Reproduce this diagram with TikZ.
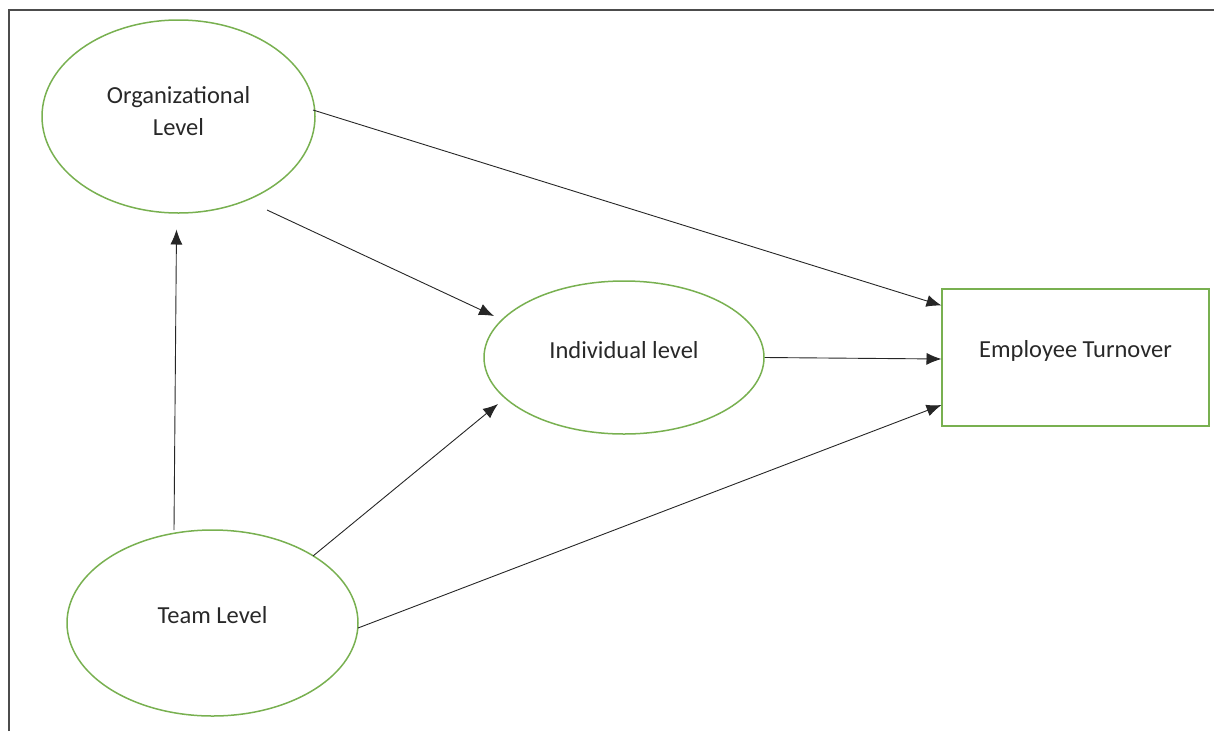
\documentclass[tikz,border=0pt]{standalone}
\usepackage{fontspec}
\setmainfont{Carlito}
\usetikzlibrary{shapes.geometric,arrows.meta,calc}
\definecolor{ogreen}{RGB}{120,176,80}
\definecolor{txt}{RGB}{40,40,40}
\tikzset{
  lvl/.style={ellipse,draw=ogreen,line width=1.5pt,inner sep=0pt},
  outbox/.style={rectangle,draw=ogreen,line width=1.5pt,inner sep=0pt},
  lab/.style={font=\fontsize{24.5}{32}\selectfont,text=txt,align=center},
  conn/.style={draw=black!85,line width=0.9pt,-{Latex[length=15pt,width=12pt]}},
  frame/.style={draw=black!70,line width=1.5pt}
}
\begin{document}
\begin{tikzpicture}[x=1pt,y=-1pt]
\useasboundingbox (0,0) rectangle (1214,731);
\draw[frame] (9,731) coordinate (fa) -- (9,10) coordinate (fb) -- (1214,10) coordinate (fc);
% shapes
\node[lvl,minimum width=273pt,minimum height=193pt] (org) at (178.5,116.5) {};
\node[lvl,minimum width=280pt,minimum height=153pt] (ind) at (624,357.5) {};
\node[outbox,minimum width=267pt,minimum height=137pt] (emp) at (1075.5,357.5) {};
\node[lvl,minimum width=291pt,minimum height=186pt] (team) at (212.5,623) {};
% texts
\node[lab] (orgt) at ($(org)+(0,-5)$) {Organizational\\Level};
\node[lab] (indt) at ($(ind)+(0,-7)$) {Individual level};
\node[lab] (empt) at ($(emp)+(0,-7)$) {Employee Turnover};
\node[lab] (teamt) at ($(team)+(0,-8)$) {Team Level};
% connectors
\draw[conn] ($(org)+(134.5,-6.5)$) -- ($(emp)+(-134,-52)$);
\draw[conn] ($(org)+(88.5,93.5)$) -- ($(ind)+(-130,-41.5)$);
\draw[conn] (ind.east) -- ($(emp)+(-134,1.5)$);
\draw[conn] ($(team)+(145.5,5)$) -- ($(emp)+(-134,47.5)$);
\draw[conn] ($(team)+(100.5,-67)$) -- ($(ind)+(-126,46.5)$);
\draw[conn] ($(team)+(-38.5,-93)$) -- ($(org)+(-2,113)$);
\end{tikzpicture}
\end{document}
